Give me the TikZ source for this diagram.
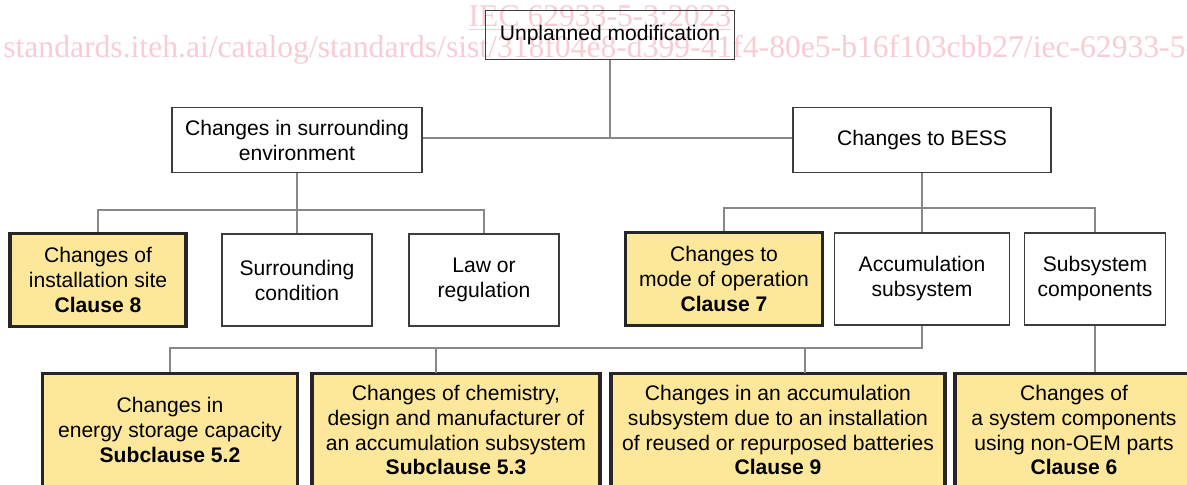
\documentclass[tikz,border=0pt]{standalone}
\usepackage{fontspec}
\setmainfont{Liberation Sans}
\newfontfamily\wmfont{Liberation Serif}
\definecolor{clausefill}{RGB}{252,231,154}
\definecolor{wmpink}{RGB}{247,204,210}
\definecolor{linkgray}{RGB}{135,135,135}
\definecolor{boxline}{RGB}{60,60,60}
\begin{document}
\begin{tikzpicture}[x=0.02cm,y=-0.02cm,
    every node/.style={font=\fontsize{12}{14.2}\selectfont, align=center, inner sep=0pt},
    plainbox/.style={draw=boxline, line width=0.8pt},
    clausebox/.style={draw=black!85, line width=1.8pt, fill=clausefill},
    link/.style={draw=linkgray, line width=0.6pt},
    wm/.style={text=wmpink, font=\wmfont\fontsize{18}{20}\selectfont}]
        \clip (0,0) rectangle (1187,484);
        % watermark
        \node[wm, anchor=base] at (600,26) (wmtitle) {\underline{IEC 62933-5-3:2023}};
        \node[wm, anchor=base west] at (3,57) (wmurl) {standards.iteh.ai/catalog/standards/sist/318f04e8-d399-41f4-80e5-b16f103cbb27/iec-62933-5-3-2023};
        % top and first level
        \node[plainbox, minimum width=4.98cm, minimum height=0.98cm] at (610,35) (top) {Unplanned modification};
        \node[plainbox, minimum width=5cm, minimum height=1.3cm] at (297,140) (env) {Changes in surrounding\\environment};
        \node[plainbox, minimum width=5.16cm, minimum height=1.3cm] at (922,140) (bess) {Changes to BESS};
        % second level
        \node[clausebox, minimum width=3.52cm, minimum height=1.86cm] at (98,280) (site) {Changes of\\installation site\\\textbf{Clause 8}};
        \node[plainbox, minimum width=3cm, minimum height=1.84cm] at (297,280) (surr) {Surrounding\\condition};
        \node[plainbox, minimum width=3cm, minimum height=1.84cm] at (484,280) (law) {Law or\\regulation};
        \node[clausebox, minimum width=3.94cm, minimum height=1.86cm] at (724,279) (mode) {Changes to\\mode of operation\\\textbf{Clause 7}};
        \node[plainbox, minimum width=3.5cm, minimum height=1.84cm] at (922,279) (accu) {Accumulation\\subsystem};
        \node[plainbox, minimum width=2.82cm, minimum height=1.84cm] at (1095,279) (comp) {Subsystem\\components};
        % third level
        \node[clausebox, minimum width=5.1cm, minimum height=2.26cm] at (170,430) (cap) {Changes in\\energy storage capacity\\\textbf{Subclause 5.2}};
        \node[clausebox, minimum width=5.76cm, minimum height=2.26cm] at (456,430) (chem) {Changes of chemistry,\\design and manufacturer of\\an accumulation subsystem\\\textbf{Subclause 5.3}};
        \node[clausebox, minimum width=6.68cm, minimum height=2.26cm] at (778,430) (reuse) {Changes in an accumulation\\subsystem due to an installation\\of reused or repurposed batteries\\\textbf{Clause 9}};
        \node[clausebox, minimum width=4.76cm, minimum height=2.26cm] at (1074,430) (oem) {Changes of\\a system components\\using non-OEM parts\\\textbf{Clause 6}};
        % connectors
        \coordinate (topjoin) at (610,138);
        \coordinate (lbar) at (297,210);
        \coordinate (rbar) at (922,208);
        \coordinate (bbar) at (922,348);
        \coordinate (chemdrop) at (436,373);
        \coordinate (reusedrop) at (805,373);
        \draw[link] (top) -- (topjoin);
        \draw[link] (env.east |- topjoin) -- (bess.west |- topjoin);
        \draw[link] (env) -- (surr);
        \draw[link] (site.north) |- (lbar) -| (law.north);
        \draw[link] (bess) -- (accu);
        \draw[link] (mode.north) |- (rbar) -| (comp.north);
        \draw[link] (accu.south) -- (bbar) -| (cap.north);
        \draw[link] (chemdrop |- bbar) -- (chemdrop);
        \draw[link] (reusedrop |- bbar) -- (reusedrop);
        \draw[link] (comp.south) -- (comp.south |- oem.north);
      \end{tikzpicture}
\end{document}
